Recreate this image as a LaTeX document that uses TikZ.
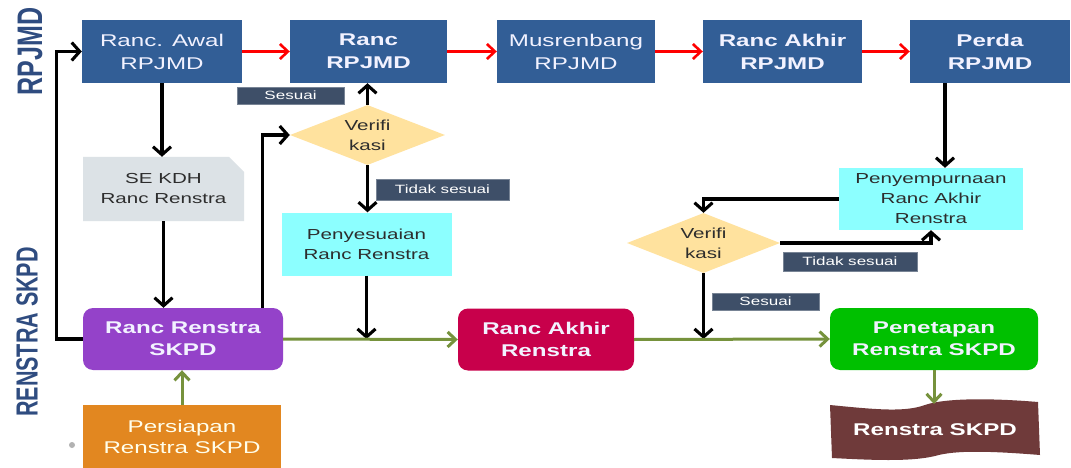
\documentclass[tikz,border=0pt]{standalone}
\usepackage{fontspec}
\setmainfont{Liberation Sans}
\newfontfamily\wf{Liberation Sans}[FakeStretch=1.42]
\usetikzlibrary{arrows.meta,shapes.geometric}
\definecolor{topblue}{RGB}{50,94,150}
\definecolor{lblC}{RGB}{62,79,104}
\definecolor{diaC}{RGB}{255,226,158}
\definecolor{cyanC}{RGB}{140,255,255}
\definecolor{seC}{RGB}{220,226,230}
\definecolor{purC}{RGB}{148,66,201}
\definecolor{orC}{RGB}{226,135,32}
\definecolor{crimC}{RGB}{200,0,75}
\definecolor{grC}{RGB}{0,192,0}
\definecolor{oliveC}{RGB}{118,146,60}
\definecolor{brownC}{RGB}{111,58,58}
\definecolor{sideC}{RGB}{47,76,128}
\definecolor{darkT}{RGB}{45,45,45}
\definecolor{lightT}{RGB}{242,242,255}
\begin{document}
\begin{tikzpicture}[x=1pt,y=-1pt,
  topbox/.style={fill=topblue, minimum width=158pt, minimum height=63pt, inner sep=0pt, align=center, text=lightT, font=\wf\fontsize{17}{23}\selectfont},
  topboxb/.style={topbox, font=\wf\bfseries\fontsize{17}{23}\selectfont},
  rbox/.style={rounded corners=10pt, minimum height=62pt, inner sep=0pt, align=center, text=lightT, font=\wf\bfseries\fontsize{17}{22}\selectfont},
  cbox/.style={fill=cyanC, minimum height=63pt, inner sep=0pt, align=center, text=darkT, font=\wf\fontsize{14.5}{20}\selectfont},
  dia/.style={shape=diamond, fill=diaC, minimum width=155pt, minimum height=60pt, inner sep=0pt},
  diatext/.style={align=center, text=darkT, font=\wf\fontsize{14.5}{20}\selectfont, inner sep=0pt},
  lbl/.style={fill=lblC, draw=lblC!70!white, line width=0.6pt, text=white, inner sep=0pt, font=\wf\fontsize{12}{14}\selectfont},
  blk/.style={draw=black, line width=3.1pt, -{Straight Barb[length=8pt,width=18pt]}},
  redarr/.style={draw=red, line width=2.6pt, -{Straight Barb[length=8pt,width=15pt]}},
  grn/.style={draw=oliveC, line width=3pt, -{Straight Barb[length=8pt,width=15pt]}}
]
\useasboundingbox (0,0) rectangle (1071,468);
\fill[white] (0,0) rectangle (1071,468);

% side labels
\node[rotate=90, text=sideC, font=\bfseries\fontsize{25}{28}\selectfont, inner sep=0pt] (sideA) at (30,51.5) {\scalebox{1}[1.42]{RPJMD}};
\node[rotate=90, text=sideC, font=\bfseries\fontsize{21.5}{24}\selectfont, inner sep=0pt] (sideB) at (27,332) {\scalebox{1}[1.42]{RENSTRA SKPD}};

% top row
\node[topbox, minimum width=160pt] (awal) at (162,51.5) {Ranc. Awal\\RPJMD};
\node[topboxb, minimum width=157pt] (rr) at (368.5,51.5) {Ranc\\RPJMD};
\node[topbox] (mus) at (576,51.5) {Musrenbang\\RPJMD};
\node[topboxb, minimum width=159pt] (rak) at (782.5,51.5) {Ranc Akhir\\RPJMD};
\node[topboxb, minimum width=160pt] (perda) at (990,51.5) {Perda\\RPJMD};

\draw[redarr] (awal.east) -- (rr.west);
\draw[redarr] (rr.east) -- (mus.west);
\draw[redarr] (mus.east) -- (rak.west);
\draw[redarr] (rak.east) -- (perda.west);

% SE KDH snipped rectangle
\fill[seC] (83,157) -- (229,157) -- (244,172) -- (244,221) -- (83,221) -- cycle;
\node[minimum width=161pt, minimum height=64pt, inner sep=0pt, align=center, text=darkT, font=\wf\fontsize{14.5}{20}\selectfont] (se) at (163.5,189) {SE KDH\\Ranc Renstra};

% renstra row
\node[rbox, fill=purC, minimum width=200pt] (rrs) at (183,339) {Ranc Renstra\\SKPD};
\node[fill=orC, minimum width=198pt, minimum height=63pt, inner sep=0pt, align=center, text=white!92!yellow, font=\wf\fontsize{17}{21}\selectfont] (pers) at (182,436.5) {Persiapan\\Renstra SKPD};
\node[circle, fill=black!30, minimum size=6pt, inner sep=0pt] (dot) at (72,445) {};
\node[rbox, fill=crimC, minimum width=176pt] (rakr) at (546,339.5) {Ranc Akhir\\Renstra};
\node[rbox, fill=grC, minimum width=208pt] (pen) at (934,339) {Penetapan\\Renstra SKPD};

% verification 1
\node[dia] (ver1) at (367.5,135) {};
\node[diatext] (ver1t) at (367.5,135) {Verifi\\kasi};
\node[cbox, minimum width=170pt] (peny) at (366.5,244) {Penyesuaian\\Ranc Renstra};

% verification 2
\node[dia, minimum width=153pt] (ver2) at (703.5,243) {};
\node[diatext] (ver2t) at (703.5,243) {Verifi\\kasi};
\node[cbox, minimum width=184pt, minimum height=62pt] (psm) at (931,199) {Penyempurnaan\\Ranc Akhir\\Renstra};

% labels
\node[lbl, minimum width=107pt, minimum height=17pt] (s1) at (290.5,95.5) {Sesuai};
\node[lbl, minimum width=133pt, minimum height=21pt] (t1) at (442.5,189.5) {Tidak sesuai};
\node[lbl, minimum width=134pt, minimum height=19pt] (t2) at (850,261.5) {Tidak sesuai};
\node[lbl, minimum width=107pt, minimum height=17pt] (s2) at (765.5,301.5) {Sesuai};

% wave document
\fill[brownC] (830,405) .. controls (880,410) and (905,412) .. (925,405)
  .. controls (945,398) and (990,398) .. (1038,402) -- (1040,455)
  .. controls (990,451) and (955,450) .. (935,456)
  .. controls (910,462) and (870,460) .. (832,458) -- cycle;
\node[text=white, inner sep=0pt, font=\wf\bfseries\fontsize{17}{20}\selectfont] (rsk) at (935,430) {Renstra SKPD};
\coordinate (wtop) at (935,404);

% black connectors
\draw[blk] (awal.south) -- (awal.south |- se.north);
\draw[blk] (se.south) -- (se.south |- rrs.north);
\draw[blk] (rrs.west) -- ++(-26,0) |- (awal.west);
\draw[blk] ([xshift=-21pt]rrs.north east) |- (ver1.west);
\draw[blk] (ver1.north) -- (ver1.north |- rr.south);
\draw[blk] (ver1.south) -- (ver1.south |- peny.north);
\draw[blk] (peny.south) -- (peny.south |- rrs.east);
\draw[blk] ([xshift=-45pt]perda.south) -- ([xshift=-45pt]perda.south |- psm.north);
\draw[blk] (psm.west) -| (ver2.north);
\draw[blk] (ver2.east) -| (psm.south);
\draw[blk] (ver2.south) -- (ver2.south |- pen.west);

% green connectors
\draw[grn] (pers.north) -- (pers.north |- rrs.south);
\draw[grn] (rrs.east) -- (rakr.west);
\draw[grn] (rakr.east) -- (pen.west);
\draw[grn] (pen.south) -- (pen.south |- wtop);
\end{tikzpicture}
\end{document}
